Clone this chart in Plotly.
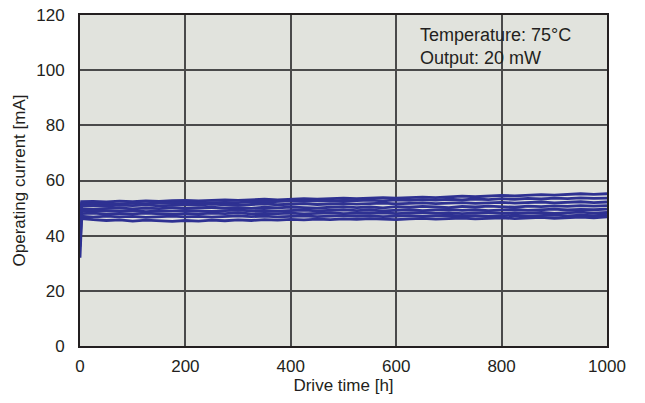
import plotly.graph_objects as go

times = [0, 3, 25, 50, 75, 100, 125, 150, 175, 200, 225, 250, 275, 300, 325, 350, 375, 400,
         425, 450, 475, 500, 525, 550, 575, 600, 625, 650, 675, 700, 725, 750, 775, 800,
         825, 850, 875, 900, 925, 950, 975, 1000]

s1 = [44.0, 52.3, 52.4, 52.2, 52.5, 52.3, 52.6, 52.4, 52.7, 52.8, 52.6, 52.9, 53.0, 52.8, 53.1, 53.2, 53.0, 53.3, 53.4, 53.2, 53.5, 53.6, 53.4, 53.7, 53.8, 53.6, 53.9, 54.0, 53.8, 54.1, 54.3, 54.1, 54.4, 54.6, 54.4, 54.7, 54.9, 54.7, 55.0, 55.2, 55.0, 55.2]
s2 = [46.0, 51.6, 51.5, 51.7, 51.4, 51.8, 51.6, 51.9, 51.7, 51.8, 52.0, 51.9, 52.1, 52.0, 52.3, 52.2, 52.4, 52.6, 52.4, 52.7, 52.5, 52.8, 52.7, 52.9, 52.6, 53.0, 52.8, 53.1, 52.9, 53.2, 53.0, 53.3, 53.1, 53.4, 53.2, 53.5, 53.3, 53.6, 53.4, 53.7, 53.5, 53.6]
s3 = [47.0, 50.8, 51.0, 50.7, 51.1, 50.9, 51.2, 50.8, 51.0, 51.3, 51.1, 51.4, 51.2, 51.0, 51.3, 51.5, 51.2, 51.4, 51.6, 51.3, 51.5, 51.7, 51.4, 51.6, 51.8, 51.5, 51.7, 51.9, 51.6, 51.8, 52.0, 51.7, 51.9, 52.1, 51.8, 52.0, 52.2, 51.9, 52.1, 52.3, 52.0, 52.2]
s4 = [43.0, 49.8, 49.6, 49.9, 50.1, 49.7, 50.0, 49.8, 50.2, 49.9, 50.1, 50.3, 50.0, 50.2, 49.9, 50.3, 50.1, 50.4, 50.2, 50.0, 50.3, 50.5, 50.2, 50.4, 50.1, 50.5, 50.3, 50.6, 50.4, 50.2, 50.6, 50.4, 50.7, 50.5, 50.3, 50.7, 50.5, 50.8, 50.6, 50.9, 50.7, 50.9]
s5 = [38.0, 49.0, 48.8, 49.1, 48.9, 49.2, 48.7, 49.0, 48.9, 49.2, 49.0, 48.8, 49.1, 49.3, 49.0, 49.2, 48.9, 49.1, 49.3, 49.0, 49.2, 49.4, 49.1, 49.3, 49.0, 49.2, 49.4, 49.1, 49.3, 49.5, 49.2, 49.4, 49.1, 49.3, 49.5, 49.2, 49.4, 49.6, 49.3, 49.5, 49.4, 49.6]
s6 = [42.0, 48.0, 48.2, 47.8, 48.1, 47.9, 48.2, 48.0, 47.7, 48.1, 47.9, 48.2, 48.0, 48.3, 47.9, 48.1, 48.0, 48.2, 47.9, 48.1, 48.3, 48.0, 48.2, 48.1, 48.3, 48.0, 48.2, 48.4, 48.1, 48.3, 48.0, 48.2, 48.4, 48.1, 48.3, 48.2, 48.4, 48.1, 48.3, 48.5, 48.2, 48.4]
s7 = [36.0, 47.0, 46.7, 47.1, 46.8, 47.0, 46.6, 46.9, 47.1, 46.8, 47.0, 46.7, 46.9, 47.2, 46.9, 47.1, 46.8, 47.0, 47.2, 46.9, 47.1, 47.3, 47.0, 47.2, 46.9, 47.1, 47.3, 47.0, 47.2, 47.4, 47.1, 47.3, 47.0, 47.2, 47.4, 47.1, 47.3, 47.5, 47.2, 47.4, 47.3, 47.5]
s8 = [32.0, 46.2, 45.8, 45.5, 45.7, 45.3, 45.6, 45.4, 45.2, 45.5, 45.3, 45.6, 45.4, 45.7, 45.5, 45.8, 45.6, 45.9, 45.7, 46.0, 45.8, 46.1, 45.9, 46.2, 46.0, 45.8, 46.1, 46.3, 46.0, 46.2, 46.4, 46.1, 46.3, 46.5, 46.2, 46.4, 46.6, 46.3, 46.5, 46.7, 46.5, 46.8]

series = [s1, s2, s3, s4, s5, s6, s7, s8]

x_ticks = [0, 200, 400, 600, 800, 1000]
y_ticks = [0, 20, 40, 60, 80, 100, 120]

line_color = "#2e3192"
font_family = "Liberation Sans, Arial, sans-serif"
text_color = "#231f20"

fig = go.Figure()
for s in series:
    fig.add_trace(go.Scatter(x=times, y=s, mode="lines",
                             line=dict(color=line_color, width=2.8),
                             showlegend=False, hoverinfo="skip"))

# the page body has an 8px default margin, so the figure is 8px smaller and the
# margins are shifted to keep the plot area at the reference's on-screen position
fig.update_layout(
    width=637, height=395,
    margin=dict(l=72, r=38, t=7, b=57),
    paper_bgcolor="white",
    plot_bgcolor="#e1e3dd",
    font=dict(family=font_family, size=17, color=text_color),
    showlegend=False,
)
fig.update_xaxes(range=[0, 1000], tickvals=x_ticks, ticktext=[str(v) for v in x_ticks],
                 showgrid=True, gridcolor="#4a4a4a", gridwidth=1.5,
                 showline=True, linecolor="#231f20", linewidth=2, mirror=True,
                 zeroline=False, ticks="", automargin=False, ticklabelstandoff=4,
                 ticklabeloverflow="allow",
                 tickfont=dict(size=17, family=font_family, color=text_color),
                 title=dict(text="Drive time [h]", standoff=4,
                            font=dict(size=17, family=font_family, color=text_color)))
fig.update_yaxes(range=[0, 120], tickvals=y_ticks, ticktext=[str(v) for v in y_ticks],
                 showgrid=True, gridcolor="#4a4a4a", gridwidth=1.5,
                 showline=True, linecolor="#231f20", linewidth=2, mirror=True,
                 zeroline=False, ticks="", automargin=False, ticklabelstandoff=10,
                 ticklabeloverflow="allow",
                 tickfont=dict(size=17, family=font_family, color=text_color),
                 title=dict(text="Operating current [mA]", standoff=6,
                            font=dict(size=17, family=font_family, color=text_color)))

fig.add_annotation(x=0.641, y=0.975, xref="paper", yref="paper", xanchor="left", yanchor="top",
                   text="Temperature: 75°C<br>Output: 20 mW", showarrow=False, align="left",
                   font=dict(size=18, family=font_family, color=text_color))

fig.write_html("out.html")
